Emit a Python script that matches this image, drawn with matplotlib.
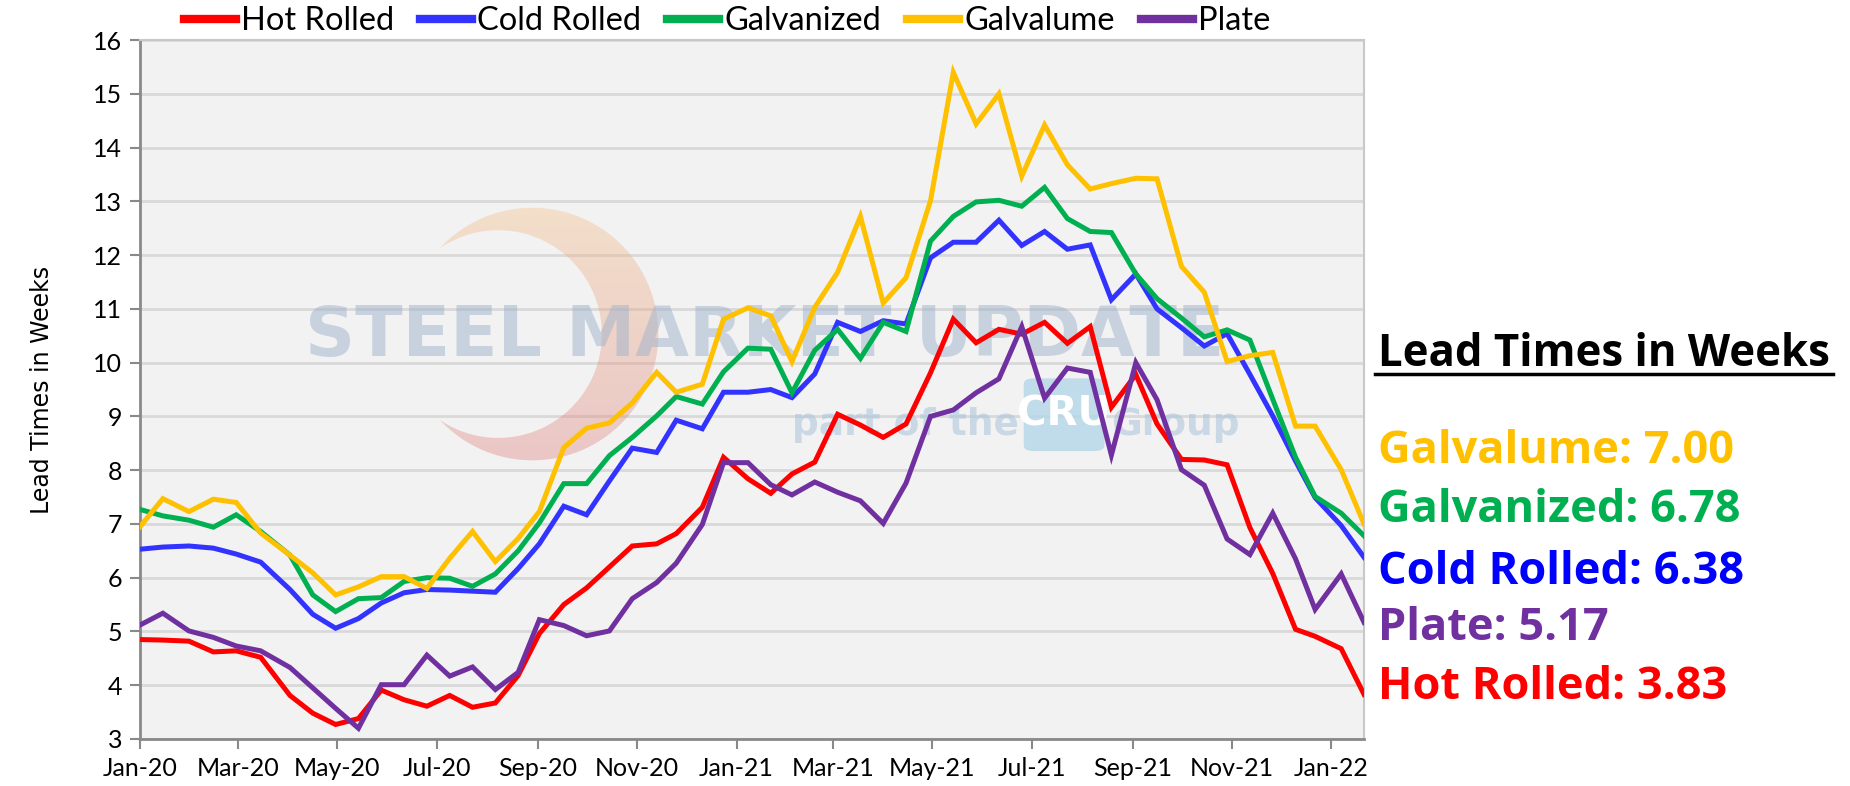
import matplotlib
matplotlib.use("Agg")
import matplotlib.pyplot as plt
import matplotlib.dates as mdates
import matplotlib.patches as mpatches
import numpy as np
import pandas as pd

# survey dates (roughly every two weeks)
dates = pd.to_datetime([
    "2020-01-01", "2020-01-15", "2020-01-31", "2020-02-15", "2020-02-29", "2020-03-15",
    "2020-04-02", "2020-04-16", "2020-04-30", "2020-05-14", "2020-05-28", "2020-06-11",
    "2020-06-25", "2020-07-09", "2020-07-23", "2020-08-06", "2020-08-20", "2020-09-02",
    "2020-09-17", "2020-10-01", "2020-10-15", "2020-10-29", "2020-11-13", "2020-11-25",
    "2020-12-11", "2020-12-24", "2021-01-08", "2021-01-22", "2021-02-04", "2021-02-18",
    "2021-03-04", "2021-03-18", "2021-04-01", "2021-04-15", "2021-04-30", "2021-05-14",
    "2021-05-28", "2021-06-11", "2021-06-25", "2021-07-09", "2021-07-23", "2021-08-06",
    "2021-08-19", "2021-09-03", "2021-09-16", "2021-10-01", "2021-10-15", "2021-10-29",
    "2021-11-12", "2021-11-26", "2021-12-10", "2021-12-22", "2022-01-07", "2022-01-21",
])

hot_rolled = [4.85, 4.84, 4.82, 4.62, 4.64, 4.52, 3.81, 3.48, 3.27, 3.38, 3.91, 3.73,
              3.61, 3.81, 3.59, 3.67, 4.18, 4.96, 5.50, 5.81, 6.20, 6.59, 6.63, 6.82,
              7.31, 8.24, 7.84, 7.57, 7.93, 8.15, 9.04, 8.84, 8.61, 8.86, 9.81, 10.81,
              10.37, 10.62, 10.53, 10.75, 10.36, 10.67, 9.17, 9.78, 8.86, 8.20, 8.19, 8.10,
              6.93, 6.08, 5.04, 4.91, 4.68, 3.83]
cold_rolled = [6.53, 6.57, 6.59, 6.55, 6.44, 6.29, 5.78, 5.32, 5.06, 5.24, 5.53, 5.72,
               5.78, 5.77, 5.75, 5.73, 6.17, 6.63, 7.33, 7.17, 7.80, 8.41, 8.33, 8.93,
               8.77, 9.45, 9.45, 9.50, 9.35, 9.79, 10.75, 10.58, 10.78, 10.72, 11.95, 12.24,
               12.24, 12.65, 12.18, 12.44, 12.11, 12.19, 11.17, 11.65, 11.00, 10.65, 10.31, 10.54,
               9.78, 9.01, 8.17, 7.49, 6.97, 6.38]
galvanized = [7.27, 7.15, 7.07, 6.94, 7.17, 6.86, 6.42, 5.68, 5.37, 5.61, 5.63, 5.93,
              6.00, 5.99, 5.84, 6.07, 6.50, 7.02, 7.75, 7.75, 8.27, 8.61, 9.01, 9.37,
              9.23, 9.83, 10.27, 10.25, 9.44, 10.23, 10.62, 10.08, 10.75, 10.58, 12.26, 12.72,
              12.99, 13.02, 12.91, 13.26, 12.68, 12.44, 12.42, 11.65, 11.19, 10.83, 10.48, 10.61,
              10.42, 9.32, 8.24, 7.51, 7.20, 6.78]
galvalume = [6.95, 7.47, 7.23, 7.46, 7.40, 6.83, 6.42, 6.09, 5.68, 5.83, 6.02, 6.02,
             5.80, 6.36, 6.86, 6.30, 6.73, 7.23, 8.42, 8.78, 8.88, 9.25, 9.82, 9.45,
             9.60, 10.81, 11.02, 10.87, 10.02, 11.03, 11.68, 12.72, 11.11, 11.58, 13.01, 15.40,
             14.44, 15.00, 13.47, 14.42, 13.68, 13.23, 13.33, 13.43, 13.42, 11.79, 11.31, 10.02,
             10.13, 10.19, 8.82, 8.82, 8.01, 7.00]
plate = [5.12, 5.34, 5.01, 4.89, 4.73, 4.64, 4.33, 3.95, 3.57, 3.20, 4.01, 4.01,
         4.56, 4.17, 4.34, 3.92, 4.24, 5.22, 5.11, 4.92, 5.01, 5.61, 5.91, 6.27,
         6.99, 8.14, 8.14, 7.73, 7.54, 7.78, 7.59, 7.43, 7.01, 7.76, 9.00, 9.12,
         9.44, 9.70, 10.67, 9.34, 9.90, 9.82, 8.28, 10.00, 9.31, 8.01, 7.72, 6.72,
         6.43, 7.20, 6.35, 5.41, 6.07, 5.17]

series = ["Hot Rolled", "Cold Rolled", "Galvanized", "Galvalume", "Plate"]
values = [hot_rolled, cold_rolled, galvanized, galvalume, plate]
colors = ["#FF0000", "#3333FF", "#00B050", "#FFC000", "#7030A0"]
text_colors = {"Hot Rolled": "#FF0000", "Cold Rolled": "#0000FF", "Galvanized": "#00B050",
               "Galvalume": "#FFC000", "Plate": "#7030A0"}
# order of the summary on the right
summary_order = ["Galvalume", "Galvanized", "Cold Rolled", "Plate", "Hot Rolled"]

body_font = ["Lato", "DejaVu Sans"]

fig = plt.figure(figsize=(18.5, 7.86), dpi=100)
ax = fig.add_axes([0.0757, 0.0598, 0.6616, 0.8892])
ax.set_facecolor("#F2F2F2")

# faint watermark: crescent (outer ellipse minus inner ellipse, opening to the left)
th_out = np.radians(np.linspace(137.1, -137.1, 120))
th_in = np.radians(np.linspace(-124.2, 124.2, 120))
xs = np.concatenate([0.3205 + 0.103 * np.cos(th_out), 0.2926 + 0.0847 * np.cos(th_in)])
ys_c = np.concatenate([0.5794 + 0.1807 * np.sin(th_out), 0.5794 + 0.1486 * np.sin(th_in)])
clip = mpatches.Polygon(np.column_stack([xs, ys_c]), closed=True, transform=ax.transAxes,
                        facecolor="none", edgecolor="none")
ax.add_patch(clip)
t = np.linspace(0, 1, 100)[:, None]
top_c = np.array([0.96, 0.74, 0.50])
bot_c = np.array([0.86, 0.45, 0.45])
grad = (top_c * (1 - t) + bot_c * t)[:, None, :].repeat(2, axis=1)
img = ax.imshow(grad, extent=[0.2, 0.45, 0.38, 0.77], transform=ax.transAxes,
                aspect="auto", alpha=0.35, zorder=1, interpolation="bilinear")
img.set_clip_path(clip)

ax.text(0.51, 0.576, "STEEL MARKET UPDATE", transform=ax.transAxes, ha="center", va="center",
        fontsize=50, fontweight="bold", color="#9FB3CC", alpha=0.5, zorder=1,
        family="DejaVu Sans")
ax.text(0.625, 0.449, "part of the", transform=ax.transAxes, ha="center", va="center",
        fontsize=27, fontweight="bold", color="#A9C4DC", alpha=0.55, zorder=1,
        family="DejaVu Sans")
ax.add_patch(mpatches.FancyBboxPatch((0.722, 0.412), 0.066, 0.104,
                                     boxstyle="round,pad=0,rounding_size=0.008",
                                     transform=ax.transAxes, facecolor="#B4D6E8",
                                     edgecolor="none", alpha=0.8, zorder=1))
ax.text(0.755, 0.464, "CRU", transform=ax.transAxes, ha="center", va="center",
        fontsize=29, fontweight="bold", color="white", zorder=1,
        family=["DejaVu Sans Condensed", "DejaVu Sans"])
ax.text(0.846, 0.449, "Group", transform=ax.transAxes, ha="center", va="center",
        fontsize=27, fontweight="bold", color="#A9C4DC", alpha=0.55, zorder=1,
        family="DejaVu Sans")

for name, vals, c in zip(series, values, colors):
    ax.plot(dates, vals, color=c, linewidth=3.6, label=name, zorder=3, solid_joinstyle="miter")

ax.set_ylim(3, 16)
ax.set_yticks(range(3, 17))
ax.set_xlim(dates[0], dates[-1])
ax.xaxis.set_major_locator(mdates.MonthLocator(bymonth=[1, 3, 5, 7, 9, 11]))
ax.xaxis.set_major_formatter(mdates.DateFormatter("%b-%y"))
ax.grid(axis="y", color="#D9D9D9", linewidth=2, zorder=0)
ax.set_axisbelow(True)

for s in ["left", "bottom"]:
    ax.spines[s].set_color("#898989")
    ax.spines[s].set_linewidth(2)
for s in ["top", "right"]:
    ax.spines[s].set_color("#C8C8C8")
    ax.spines[s].set_linewidth(1.5)
ax.tick_params(axis="both", direction="out", length=7, width=1.5, color="#898989",
               labelsize=18, pad=6)
for lab in ax.get_xticklabels() + ax.get_yticklabels():
    lab.set_family(body_font)

ax.set_ylabel("Lead Times in Weeks", fontsize=17, labelpad=28)

leg = fig.legend(loc="center", bbox_to_anchor=(0.393, 0.973), ncol=5, frameon=False,
                 prop={"family": body_font, "size": 23.5}, handlelength=1.6,
                 handletextpad=0.15, columnspacing=0.8)
for h in leg.get_lines():
    h.set_linewidth(6)

# summary on the right
fig.text(0.745, 0.549, "Lead Times in Weeks", fontsize=31.5, fontweight="bold",
         color="black", ha="left", va="center", family="Open Sans")
fig.add_artist(plt.Line2D([0.743, 0.991], [0.524, 0.524], color="black", linewidth=2.5))
last = dict(zip(series, [v[-1] for v in values]))
ys = [0.426, 0.350, 0.272, 0.200, 0.125]
for name, y in zip(summary_order, ys):
    fig.text(0.745, y, f"{name}: {last[name]:.2f}", fontsize=32.5, fontweight="bold",
             color=text_colors[name], ha="left", va="center", family="Open Sans")

fig.savefig("out.png", dpi=100)
